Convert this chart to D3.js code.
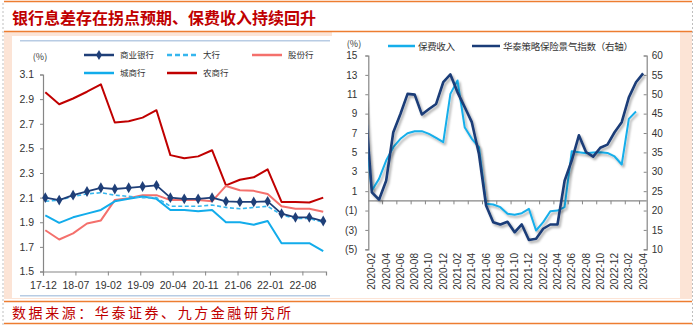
<!DOCTYPE html>
<html><head><meta charset="utf-8">
<script src="https://cdn.jsdelivr.net/npm/d3@7/dist/d3.min.js"></script>
<style>
html,body{margin:0;padding:0;background:#fff;}
svg{display:block;}
</style></head>
<body>
<svg id="chart" width="696" height="327"></svg>
<script>
// ---------- DATA ----------
const titleText = "银行息差存在拐点预期、保费收入持续回升";
const sourceText = "数据来源：华泰证券、九方金融研究所";

// Left chart: quarterly net interest margin (%), 2017-12 .. 2022-12
const leftQuarters = ["2017-12","2018-03","2018-06","2018-09","2018-12","2019-03","2019-06","2019-09","2019-12",
  "2020-03","2020-06","2020-09","2020-12","2021-03","2021-06","2021-09","2021-12","2022-03","2022-06","2022-09","2022-12"];
const leftSeriesNames = ["商业银行","大行","股份行","城商行","农商行"];
const commercialBanks = [2.10,2.08,2.12,2.15,2.18,2.17,2.18,2.19,2.20,2.10,2.09,2.09,2.10,2.07,2.065,2.065,2.07,1.97,1.94,1.94,1.91];
const largeBanks      = [2.07,2.08,2.11,2.13,2.14,2.12,2.11,2.10,2.10,2.03,2.03,2.03,2.04,2.02,2.01,2.02,2.03,1.96,1.93,1.93,1.90];
const jointStockBanks = [1.835,1.76,1.81,1.89,1.915,2.08,2.095,2.12,2.12,2.08,2.08,2.08,2.07,2.195,2.16,2.155,2.13,2.03,2.01,2.01,1.985];
const cityBanks       = [1.955,1.895,1.94,1.97,2.00,2.07,2.09,2.11,2.09,2.00,2.00,1.99,2.00,1.90,1.90,1.88,1.91,1.73,1.73,1.73,1.665];
const ruralBanks      = [2.955,2.858,2.905,2.96,3.02,2.71,2.72,2.75,2.81,2.445,2.42,2.435,2.485,2.20,2.245,2.265,2.33,2.065,2.065,2.06,2.10];
const leftXTickLabels = ["17-12","18-07","19-02","19-09","20-04","20-11","21-06","22-01","22-08"];
const leftYTicks = [1.5,1.7,1.9,2.1,2.3,2.5,2.7,2.9,3.1];

// Right chart: monthly, 2020-01 .. 2023-04 (first month lies just left of the axis)
const rightMonths = ["2020-01","2020-02","2020-03","2020-04","2020-05","2020-06","2020-07","2020-08","2020-09","2020-10","2020-11","2020-12",
  "2021-01","2021-02","2021-03","2021-04","2021-05","2021-06","2021-07","2021-08","2021-09","2021-10","2021-11","2021-12",
  "2022-01","2022-02","2022-03","2022-04","2022-05","2022-06","2022-07","2022-08","2022-09","2022-10","2022-11","2022-12",
  "2023-01","2023-02","2023-03","2023-04"];
const rightSeriesNames = ["保费收入","华泰策略保险景气指数（右轴）"];
const premiumIncome = [7.3,1.07,2.27,4.16,5.54,6.40,6.98,7.19,7.19,6.91,6.50,6.05,
  11.04,12.42,7.60,6.40,5.54,-0.30,-0.38,-0.65,-1.34,-1.44,-1.27,-0.83,
  -3.06,-2.20,-1.07,-1.00,-0.65,5.13,5.02,4.92,4.99,5.02,4.95,4.58,
  3.75,8.46,9.22,null];
const insuranceIndex = [49.2,24.7,22.8,27.7,40.2,44.9,50.1,49.9,44.8,46.2,47.5,53.1,
  55.1,50.5,46.7,42.8,34.6,21.3,17.0,16.4,17.1,14.4,16.4,12.4,
  12.7,15.3,16.4,16.4,27.7,32.9,39.4,35.1,33.9,36.2,37.0,40.2,
  42.8,49.2,53.1,55.4];
const rightYTicks = [-5,-3,-1,1,3,5,7,9,11,13,15];
const rightY2Ticks = [10,15,20,25,30,35,40,45,50,55,60];

// ---------- DRAW ----------
const svg = d3.select("#chart");
const ORANGE = "#ED7D31";
const PEACH = "#FCE4D6";
const CJK = "'Noto Sans CJK SC','Noto Sans',sans-serif";
const NARROW = "'Liberation Sans Narrow','Arial Narrow','Liberation Sans',Arial,sans-serif";
const SANS = "'Liberation Sans',Arial,sans-serif";
const AXIS = "#868686";
const TXT = "#333";

// Background panels
svg.append("rect").attr("x",4).attr("y",32).attr("width",688).attr("height",267).attr("fill",PEACH);
svg.append("rect").attr("x",12).attr("y",36).attr("width",320).attr("height",262).attr("fill","#fff");
svg.append("rect").attr("x",332).attr("y",32).attr("width",348).attr("height",266).attr("fill","#fff");

// Frame lines
[1.5,31.5,301.5,323.5].forEach(y=>{
  svg.append("line").attr("x1",4).attr("x2",692).attr("y1",y).attr("y2",y)
    .attr("stroke",ORANGE).attr("stroke-width",1.5);
});
[3,692.5].forEach(x=>{
  svg.append("line").attr("x1",x).attr("x2",x).attr("y1",3).attr("y2",327)
    .attr("stroke","#BFBFBF").attr("stroke-width",1).attr("stroke-dasharray","2,2");
});

// Title and source
svg.append("text").attr("x",12).attr("y",24).text(titleText)
  .attr("font-family",CJK).attr("font-size",16).attr("font-weight",700).attr("fill","#C00000")
  .attr("textLength",304).attr("lengthAdjust","spacingAndGlyphs");
svg.append("text").attr("x",12).attr("y",318).text(sourceText)
  .attr("font-family",CJK).attr("font-size",14).attr("fill","#C00000")
  .attr("textLength",279).attr("lengthAdjust","spacing");

// ===== LEFT CHART =====
svg.append("line").attr("x1",20).attr("x2",330).attr("y1",40.7).attr("y2",40.7).attr("stroke","#B8CCE4").attr("stroke-width",1.5);
svg.append("line").attr("x1",20).attr("x2",330).attr("y1",295.7).attr("y2",295.7).attr("stroke","#B8CCE4").attr("stroke-width",1.5);

function monthIndex(s){ const [y,m]=s.split("-").map(Number); return (y-2017)*12 + (m-12); }
const xL = d3.scaleLinear().domain([0,61.1]).range([43,326]);
const yL = d3.scaleLinear().domain([1.5,3.1]).range([271.5,74.5]);
const leftX = leftQuarters.map(q=>xL(monthIndex(q)+0.5));

const gLY = svg.append("g").attr("transform","translate(43,0)")
  .call(d3.axisLeft(yL).tickValues(leftYTicks).tickFormat(d3.format(".1f")).tickSize(3).tickPadding(6));
const gLX = svg.append("g").attr("transform","translate(0,271.5)")
  .call(d3.axisBottom(xL).tickValues(leftXTickLabels.map((d,i)=>i*7)).tickFormat((d,i)=>leftXTickLabels[i]).tickSize(4).tickPadding(6.5));
[gLY,gLX].forEach(g=>{
  g.select(".domain").attr("stroke",AXIS).attr("stroke-width",1.2);
  g.selectAll(".tick line").attr("stroke",AXIS);
  g.selectAll(".tick text").attr("font-family",NARROW).attr("font-size",10.5).attr("fill",TXT);
});
svg.append("text").attr("x",40).attr("y",60).text("(%)").attr("text-anchor","middle")
  .attr("font-family",CJK).attr("font-size",9).attr("fill",TXT);

const leftSeries = [
  {name:leftSeriesNames[4], values:ruralBanks, color:"#C00000", w:2, dash:null},
  {name:leftSeriesNames[2], values:jointStockBanks, color:"#F4706C", w:2, dash:null},
  {name:leftSeriesNames[3], values:cityBanks, color:"#12ACEB", w:2, dash:null},
  {name:leftSeriesNames[1], values:largeBanks, color:"#36B6EE", w:1.6, dash:"4,2.5"},
  {name:leftSeriesNames[0], values:commercialBanks, color:"#1F3F78", w:1.8, dash:null, marker:true}
];
const lineL = d3.line().x((d,i)=>leftX[i]).y(d=>yL(d));
leftSeries.forEach(s=>{
  svg.append("path").attr("d",lineL(s.values)).attr("fill","none").attr("stroke",s.color)
    .attr("stroke-width",s.w).attr("stroke-dasharray",s.dash).attr("stroke-linejoin","round");
  if(s.marker){
    svg.append("g").selectAll("path").data(s.values).join("path")
      .attr("d",d3.symbol(d3.symbolDiamond,34))
      .attr("transform",(d,i)=>`translate(${leftX[i]},${yL(d)})`)
      .attr("fill",s.color);
  }
});

// Left legend
const legL = [
  {name:leftSeriesNames[0], x:84, y:55, color:"#1F3F78", dash:null, marker:true},
  {name:leftSeriesNames[1], x:167, y:55, color:"#36B6EE", dash:"5,3"},
  {name:leftSeriesNames[2], x:252, y:55, color:"#F4706C", dash:null},
  {name:leftSeriesNames[3], x:84, y:73, color:"#12ACEB", dash:null},
  {name:leftSeriesNames[4], x:167, y:73, color:"#C00000", dash:null}
];
legL.forEach(l=>{
  svg.append("line").attr("x1",l.x).attr("x2",l.x+30).attr("y1",l.y).attr("y2",l.y)
    .attr("stroke",l.color).attr("stroke-width",2.5).attr("stroke-dasharray",l.dash);
  if(l.marker) svg.append("path").attr("d",d3.symbol(d3.symbolDiamond,30)).attr("transform",`translate(${l.x+15},${l.y})`).attr("fill",l.color);
  svg.append("text").attr("x",l.x+36).attr("y",l.y+3).text(l.name)
    .attr("font-family",CJK).attr("font-size",8.5).attr("fill",TXT);
});

// ===== RIGHT CHART =====
const xR = d3.scaleLinear().domain([0.5,39.5]).range([368.3,646.7]);
const yR = d3.scaleLinear().domain([-5,15]).range([249.3,55.5]);
const yR2 = d3.scaleLinear().domain([10,60]).range([249.3,55.5]);

const defs = svg.append("defs");
defs.append("clipPath").attr("id","clipR").append("rect")
  .attr("x",368.3).attr("y",50).attr("width",278.4).attr("height",202);
const f = defs.append("filter").attr("id","shadow").attr("x","-10%").attr("y","-10%").attr("width","130%").attr("height","130%");
f.append("feDropShadow").attr("dx",1.8).attr("dy",2.2).attr("stdDeviation",1.3).attr("flood-color","#000").attr("flood-opacity",0.32);

const negFmt = d=> d<0 ? `(${-d})` : `${d}`;
const gRY = svg.append("g").attr("transform","translate(368.3,0)")
  .call(d3.axisLeft(yR).tickValues(rightYTicks).tickFormat(negFmt).tickSize(3).tickPadding(8));
const gRY2 = svg.append("g").attr("transform","translate(646.7,0)")
  .call(d3.axisRight(yR2).tickValues(rightY2Ticks).tickSize(-3).tickPadding(6));
[gRY,gRY2].forEach(g=>{
  g.select(".domain").attr("stroke",AXIS).attr("stroke-width",1.2);
  g.selectAll(".tick line").attr("stroke",AXIS);
  g.selectAll(".tick text").attr("font-family",SANS).attr("font-size",10).attr("fill",TXT);
});
gRY2.selectAll(".tick text").attr("x",5);

// zero axis with ticks every two months
const y0 = yR(0);
svg.append("line").attr("x1",368.3).attr("x2",646.7).attr("y1",y0).attr("y2",y0).attr("stroke",AXIS).attr("stroke-width",1.2);
const boundaryIdx = d3.range(2.5,39.6,2);
svg.append("g").selectAll("line").data(boundaryIdx).join("line")
  .attr("x1",d=>xR(d)).attr("x2",d=>xR(d)).attr("y1",y0).attr("y2",y0+3.5)
  .attr("stroke",AXIS).attr("stroke-width",1);

// x labels (every 2nd month from 2020-02), rotated
const labIdx = d3.range(1,40,2);
svg.append("g").selectAll("text").data(labIdx).join("text")
  .attr("transform",d=>`translate(${xR(d)+3.5},253) rotate(-90)`)
  .attr("text-anchor","end").text(d=>rightMonths[d])
  .attr("font-family",SANS).attr("font-size",10).attr("fill",TXT);

svg.append("text").attr("x",354).attr("y",47).text("(%)").attr("text-anchor","middle")
  .attr("font-family",CJK).attr("font-size",9).attr("fill",TXT);

const gLines = svg.append("g").attr("clip-path","url(#clipR)");
const lineP = d3.line().defined(d=>d!=null).x((d,i)=>xR(i)).y(d=>yR(d));
const lineI = d3.line().defined(d=>d!=null).x((d,i)=>xR(i)).y(d=>yR2(d));
gLines.append("path").attr("d",lineP(premiumIncome)).attr("fill","none").attr("stroke","#16AEEA")
  .attr("stroke-width",2).attr("stroke-linejoin","round").attr("filter","url(#shadow)");
gLines.append("path").attr("d",lineI(insuranceIndex)).attr("fill","none").attr("stroke","#1A3C78")
  .attr("stroke-width",2.6).attr("stroke-linejoin","round").attr("filter","url(#shadow)");

// Right legend
svg.append("line").attr("x1",388).attr("x2",415).attr("y1",46).attr("y2",46).attr("stroke","#16AEEA").attr("stroke-width",2.5);
svg.append("text").attr("x",418).attr("y",49.5).text(rightSeriesNames[0])
  .attr("font-family",CJK).attr("font-size",9.5).attr("fill",TXT).attr("textLength",37).attr("lengthAdjust","spacing");
svg.append("line").attr("x1",472).attr("x2",500).attr("y1",46).attr("y2",46).attr("stroke","#1A3C78").attr("stroke-width",2.5);
svg.append("text").attr("x",503).attr("y",49.5).text(rightSeriesNames[1])
  .attr("font-family",CJK).attr("font-size",9.5).attr("fill",TXT).attr("textLength",130).attr("lengthAdjust","spacing");
</script>
</body></html>
